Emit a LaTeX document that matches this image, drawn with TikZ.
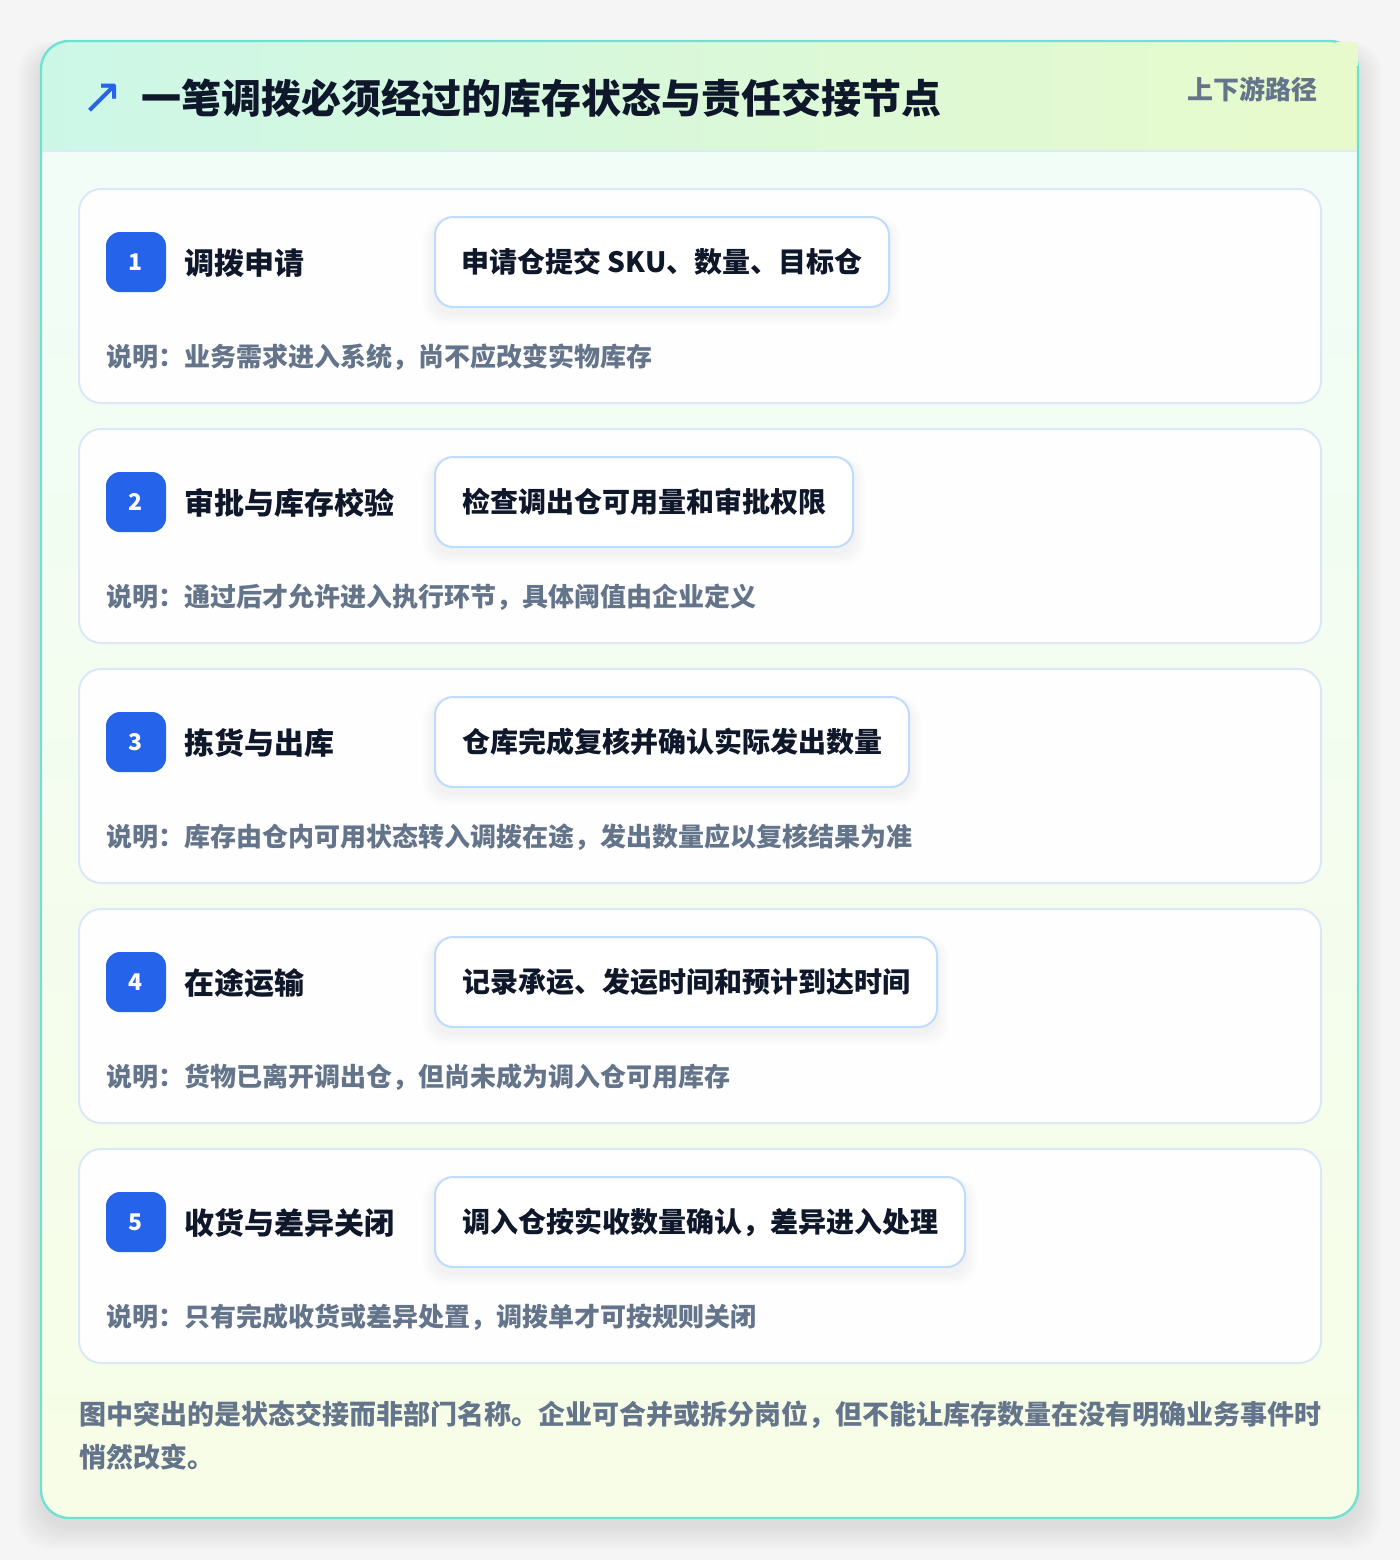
\documentclass[tikz,border=0pt]{standalone}
\usepackage{fontspec}
\setmainfont{Noto Sans CJK SC}
\newfontfamily\symfont{DejaVu Sans}
\newcommand\fsz[1]{\fontsize{#1}{#1}\selectfont}
\definecolor{bgc}{HTML}{F5F5F6}
\definecolor{cardborder}{HTML}{6EE2D0}
\definecolor{hdl}{HTML}{CCF7E7}
\definecolor{hdr}{HTML}{E8FACB}
\definecolor{bodytop}{HTML}{F0FDF8}
\definecolor{bodybot}{HTML}{F7FDE6}
\definecolor{hdline}{HTML}{DCEAF8}
\definecolor{stepfill}{HTML}{FDFEFD}
\definecolor{stepline}{HTML}{DCE8FA}
\definecolor{badgec}{HTML}{2563EB}
\definecolor{boxline}{HTML}{BFDBFE}
\definecolor{darkt}{HTML}{0F172A}
\definecolor{greyt}{HTML}{64748B}
\begin{document}
\begin{tikzpicture}[x=0.5pt,y=-0.5pt,
  stepcard/.style={draw=stepline, line width=1pt, fill=stepfill, rounded corners=11pt,
    minimum width=621pt, minimum height=107pt, inner sep=0pt},
  badge/.style={fill=badgec, rounded corners=7pt, minimum width=30pt, minimum height=30pt,
    inner sep=0pt, text=white, font=\fsz{11.5pt}\bfseries},
  steplabel/.style={anchor=west, text=darkt, font=\fsz{15pt}\bfseries, inner sep=0pt},
  actbox/.style={draw=boxline, line width=1pt, fill=white, rounded corners=9pt,
    minimum height=45pt, inner sep=0pt, text=darkt, font=\fsz{14pt}\bfseries},
  notetext/.style={anchor=west, text=greyt, font=\fsz{13pt}\bfseries, inner sep=0pt},
  foottext/.style={anchor=west, text=greyt, font=\fsz{13.5pt}\bfseries, inner sep=0pt}
]
\useasboundingbox (0,0) rectangle (1400,1560);
\fill[bgc] (0,0) rectangle (1400,1560);
% card shadow
\foreach \k in {1,...,12}
  \fill[black, opacity=0.007, rounded corners=16pt] (41-2*\k,41-1*\k+12) rectangle (1358+2*\k,1518+2*\k+8);
% card body
\shade[top color=bodytop, bottom color=bodybot, rounded corners=14pt] (41,41) rectangle (1358,1518);
% header
\begin{scope}
  \clip[rounded corners=14pt] (41,41) rectangle (1358,1518);
  \shade[left color=hdl, right color=hdr] (41,41) rectangle (1358,151);
\end{scope}
\draw[cardborder, line width=1.2pt, rounded corners=14pt] (41,41) rectangle (1358,1518);
\fill[hdr] (1336,41.5) rectangle (1358,66);
\draw[hdline, line width=1pt] (42,151) -- (1357,151);
% title
\node[text=badgec, font=\fsz{25pt}\symfont, inner sep=0pt] (icon) at (102,99) {↗};
\node[anchor=west, text=darkt, font=\fsz{20pt}\bfseries, inner sep=0pt] (title) at (141,98) {一笔调拨必须经过的库存状态与责任交接节点};
\node[anchor=east, text=greyt, font=\fsz{13pt}\bfseries, inner sep=0pt] (tag) at (1318,89) {上下游路径};
% steps
\foreach \i/\lab/\act/\w/\note in {
  1/{调拨申请}/{申请仓提交 SKU、数量、目标仓}/227/{说明：业务需求进入系统，尚不应改变实物库存},
  2/{审批与库存校验}/{检查调出仓可用量和审批权限}/209/{说明：通过后才允许进入执行环节，具体阈值由企业定义},
  3/{拣货与出库}/{仓库完成复核并确认实际发出数量}/237/{说明：库存由仓内可用状态转入调拨在途，发出数量应以复核结果为准},
  4/{在途运输}/{记录承运、发运时间和预计到达时间}/251/{说明：货物已离开调出仓，但尚未成为调入仓可用库存},
  5/{收货与差异关闭}/{调入仓按实收数量确认，差异进入处理}/265/{说明：只有完成收货或差异处置，调拨单才可按规则关闭}}
{
  \pgfmathsetmacro{\top}{189+240*(\i-1)}
  \node[stepcard] (card\i) at (700,\top+107) {};
  \node[badge] (badge\i) at (136,\top+73) {\i};
  \node[steplabel] (label\i) at (184,\top+74) {\lab};
  \foreach \k in {1,...,6}
    \fill[black, opacity=0.007, rounded corners=10pt] (435-2*\k,\top+28-\k+6) rectangle (435+2*\w+2*\k,\top+118+2*\k+6);
  \node[actbox, minimum width=\w pt] (act\i) at (435+\w,\top+73) {\act};
  \node[notetext] (note\i) at (106,\top+168) {\note};
}
% footer
\node[foottext] (foot1) at (79,1415) {图中突出的是状态交接而非部门名称。企业可合并或拆分岗位，但不能让库存数量在没有明确业务事件时};
\node[foottext] (foot2) at (79,1457) {悄然改变。};
\end{tikzpicture}
\end{document}
